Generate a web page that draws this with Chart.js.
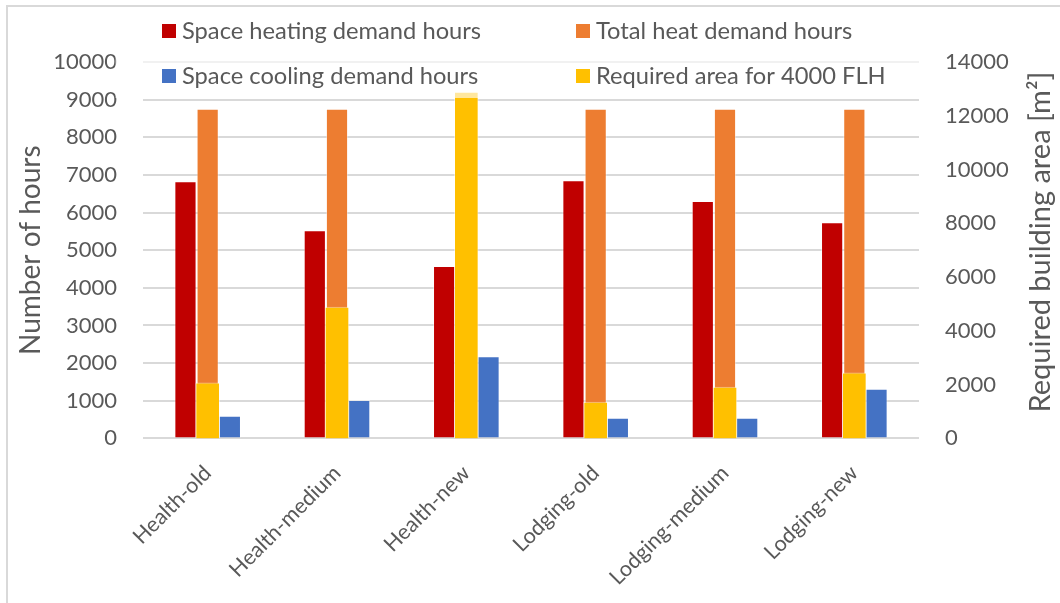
<!DOCTYPE html>
<html>
<head>
<meta charset="utf-8">
<script src="https://cdn.jsdelivr.net/npm/chart.js@4.4.1/dist/chart.umd.min.js"></script>
<style>
  html, body { margin: 0; padding: 0; background: #ffffff; }
  #wrap { position: relative; width: 1060px; height: 603px; }
</style>
</head>
<body>
<div id="wrap"><canvas id="chart" width="1060" height="603"></canvas></div>
<script>
// Building categories
const categories = ['Health-old', 'Health-medium', 'Health-new', 'Lodging-old', 'Lodging-medium', 'Lodging-new'];

// Hours (left axis)
const spaceHeatingHours = [6830, 5530, 4580, 6860, 6310, 5740];
const totalHeatHours    = [8760, 8760, 8760, 8760, 8760, 8760];
const spaceCoolingHours = [600, 1020, 2180, 550, 550, 1320];

// Required building area in m² (right axis)
const requiredArea = [2070, 4880, 12880, 1350, 1910, 2440];

// Series names
const seriesNames = [
  'Space heating demand hours',
  'Total heat demand hours',
  'Space cooling demand hours',
  'Required area for 4000 FLH'
];

const FONT = 'Lato, "Open Sans", sans-serif';
const TEXT = '#595959';
const GRID = '#d9d9d9';
const COLORS = ['#C00000', '#ED7D31', '#4472C4', '#FFC000'];

// Frame around the whole chart
const framePlugin = {
  id: 'frame',
  beforeDraw(chart) {
    const ctx = chart.ctx;
    ctx.save();
    ctx.strokeStyle = GRID;
    ctx.lineWidth = 2;
    ctx.beginPath();
    ctx.moveTo(7, 603);
    ctx.lineTo(7, 6);
    ctx.lineTo(1060, 6);
    ctx.stroke();
    ctx.restore();
  }
};

// Two-column legend on a translucent panel, plus the right axis title
const legendPlugin = {
  id: 'twoColLegend',
  afterDraw(chart) {
    const ctx = chart.ctx;
    ctx.save();
    ctx.fillStyle = 'rgba(255,255,255,0.62)';
    ctx.fillRect(115.5, 12, 805, 86);

    const cols = [162, 576];
    const rows = [24, 69];
    const order = [[0, 1], [2, 3]];
    ctx.font = '23.7px ' + FONT;
    ctx.textBaseline = 'middle';
    ctx.textAlign = 'left';
    order.forEach((row, r) => {
      row.forEach((ds, c) => {
        ctx.fillStyle = COLORS[ds];
        ctx.fillRect(cols[c], rows[r], 14, 14);
        ctx.fillStyle = TEXT;
        ctx.fillText(seriesNames[ds], cols[c] + 20, rows[r] + 7.5);
      });
    });

    // Right axis title, reading bottom to top
    ctx.translate(1041, 242);
    ctx.rotate(-Math.PI / 2);
    ctx.textAlign = 'center';
    ctx.font = '29px ' + FONT;
    ctx.fillText('Required building area [m²]', 0, 0);
    ctx.restore();
  }
};

const plainNumber = (value) => String(value);

new Chart(document.getElementById('chart'), {
  type: 'bar',
  data: {
    labels: categories,
    datasets: [
      { label: seriesNames[0], data: spaceHeatingHours, backgroundColor: COLORS[0], yAxisID: 'y',
        borderColor: 'rgba(255,255,255,0.45)', borderWidth: 1 },
      { label: seriesNames[1], data: totalHeatHours, backgroundColor: COLORS[1], yAxisID: 'y',
        borderColor: 'rgba(255,255,255,0.45)', borderWidth: 1 },
      { label: seriesNames[2], data: spaceCoolingHours, backgroundColor: COLORS[2], yAxisID: 'y',
        borderColor: 'rgba(255,255,255,0.45)', borderWidth: 1 },
      { label: seriesNames[3], data: requiredArea, backgroundColor: COLORS[3], yAxisID: 'y1',
        grouped: false, barThickness: 24, order: -1,
        borderColor: 'rgba(255,255,255,0.45)', borderWidth: 1 }
    ]
  },
  options: {
    responsive: false,
    animation: false,
    categoryPercentage: 0.515,
    barPercentage: 1,
    layout: { padding: { top: 62, left: 0, right: 0, bottom: 0 } },
    plugins: {
      legend: { display: false },
      tooltip: { enabled: false }
    },
    scales: {
      x: {
        grid: { display: false },
        border: { display: false },
        ticks: {
          color: TEXT, font: { family: FONT, size: 21.5 },
          autoSkip: false, maxRotation: 45, minRotation: 45, padding: 14
        },
        afterFit(scale) { scale.height = 164.6; }
      },
      y: {
        position: 'left',
        min: 0, max: 10000,
        ticks: { stepSize: 1000, color: TEXT, font: { family: FONT, size: 22 }, padding: 26, callback: plainNumber },
        grid: { color: GRID, lineWidth: 2, drawTicks: false },
        border: { display: false },
        title: {
          display: true, text: 'Number of hours', color: TEXT,
          font: { family: FONT, size: 28 }, padding: { top: 14, bottom: 0 }
        },
        afterFit(scale) { scale.width = 143; }
      },
      y1: {
        position: 'right',
        min: 0, max: 14000,
        ticks: { stepSize: 2000, color: TEXT, font: { family: FONT, size: 22 }, padding: 26, callback: plainNumber },
        grid: { display: false, drawTicks: false },
        border: { display: false },
        afterFit(scale) { scale.width = 141; }
      }
    }
  },
  plugins: [framePlugin, legendPlugin]
});
</script>
</body>
</html>
